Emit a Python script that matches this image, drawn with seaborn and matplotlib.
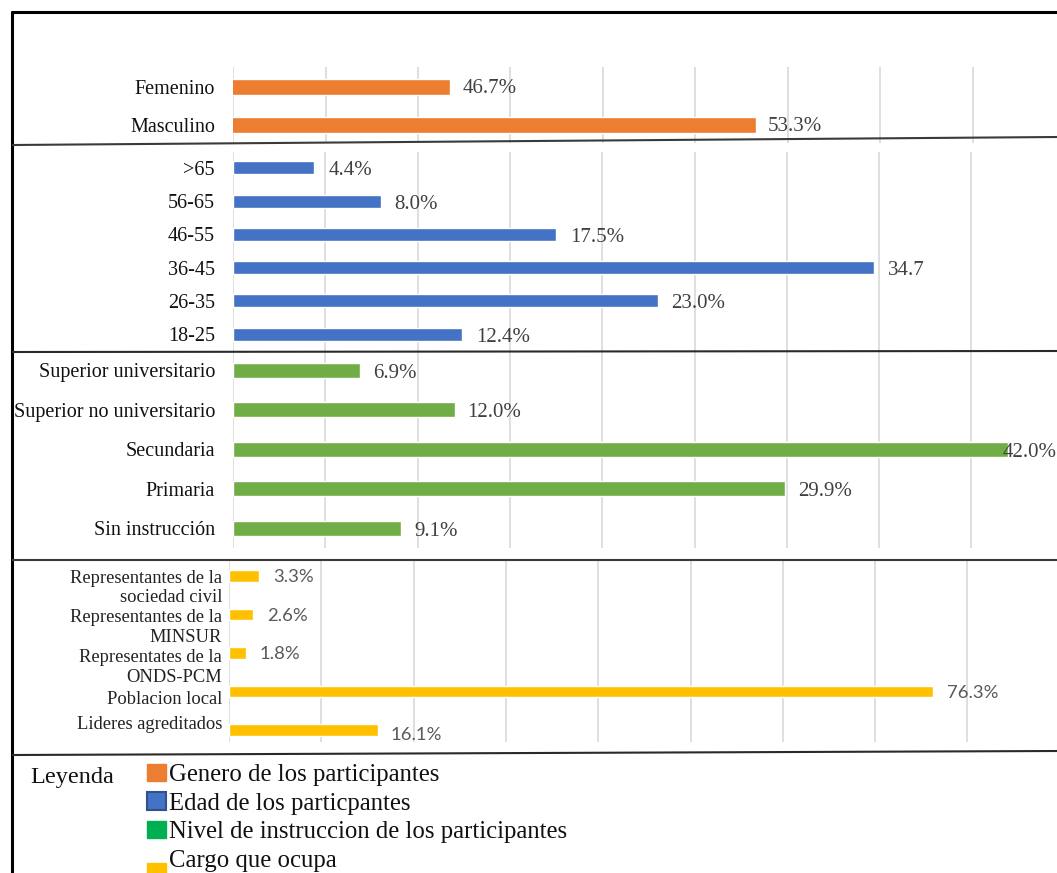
import numpy as np
import pandas as pd
import matplotlib
matplotlib.use("Agg")
import matplotlib.pyplot as plt
import seaborn as sns
from matplotlib.lines import Line2D
from matplotlib.patches import Patch, Rectangle
from matplotlib.legend_handler import HandlerPatch

# ---------------- data ----------------
genero_cats = ["Femenino", "Masculino"]
genero_vals = [46.7, 53.3]
genero_labels = ["46.7%", "53.3%"]

edad_cats = [">65", "56-65", "46-55", "36-45", "26-35", "18-25"]
edad_vals = [4.4, 8.0, 17.5, 34.7, 23.0, 12.4]
edad_labels = ["4.4%", "8.0%", "17.5%", "34.7", "23.0%", "12.4%"]

instr_cats = ["Superior universitario", "Superior no universitario",
              "Secundaria", "Primaria", "Sin instrucción"]
instr_vals = [6.9, 12.0, 42.0, 29.9, 9.1]
instr_labels = ["6.9%", "12.0%", "42.0%", "29.9%", "9.1%"]

cargo_cats = ["Representantes de la\nsociedad civil", "Representantes de la\nMINSUR",
              "Representates de la\nONDS-PCM", "Poblacion local", "Lideres agreditados"]
cargo_vals = [3.3, 2.6, 1.8, 76.3, 16.1]
cargo_labels = ["3.3%", "2.6%", "1.8%", "76.3%", "16.1%"]

legend_title = "Leyenda"
legend_labels = ["Genero de los participantes", "Edad de los particpantes",
                 "Nivel de instruccion de los participantes", "Cargo que ocupa"]

# ---------------- style ----------------
ORANGE, BLUE, GREEN, YELLOW = "#ED7D31", "#4472C4", "#70AD47", "#FFC000"
LEG_GREEN = "#00B050"
GRID = "#D9D9D9"

sns.set_style("white")
plt.rcParams["font.family"] = ["Liberation Serif", "DejaVu Serif"]

W, H = 1057, 873
fig = plt.figure(figsize=(W / 100, H / 100), dpi=100)
fig.patch.set_facecolor("white")


def px_axes(x0, y_top, y_bot):
    return fig.add_axes([x0 / W, 1 - y_bot / H, (W - x0) / W, (y_bot - y_top) / H])


def panel(ax, cats, vals, labels, color, width, xlim, step, ylim,
          tick_labels=True, tick_fs=14.5, val_fs=15, val_family=None,
          val_color="#404040", dx=13, dy=-3, special=None):
    df = pd.DataFrame({"cat": cats, "val": vals})
    sns.barplot(data=df, x="val", y="cat", orient="h", color=color,
                saturation=1, width=width, ax=ax, errorbar=None)
    ax.set_xlim(*xlim)
    ax.set_ylim(*ylim)
    ax.set_xticks(np.arange(xlim[0], xlim[1], step))
    ax.set_xticklabels([])
    ax.tick_params(axis="both", length=0)
    ax.tick_params(axis="y", pad=13, labelsize=tick_fs, labelcolor="#111111")
    ax.grid(axis="x", color=GRID, lw=1.2)
    ax.grid(axis="y", visible=False)
    ax.set_axisbelow(True)
    for s in ax.spines.values():
        s.set_visible(False)
    ax.set_xlabel("")
    ax.set_ylabel("")
    ax.patch.set_alpha(0)
    if not tick_labels:
        ax.set_yticklabels([])
    special = special or {}
    for i, (p, lab) in enumerate(zip(ax.patches, labels)):
        w = p.get_width()
        yc = p.get_y() + p.get_height() / 2
        ox, oy = special.get(i, (dx, dy))
        kw = {}
        if val_family:
            kw["family"] = val_family
        ax.annotate(lab, xy=(w, yc), xytext=(ox, oy), textcoords="offset pixels",
                    ha="left", va="center", fontsize=val_fs, color=val_color, **kw)


# Panel 1: genero
ax1 = px_axes(233, 67, 143)
panel(ax1, genero_cats, genero_vals, genero_labels, ORANGE, 0.42,
      (42, 42 + (W - 233) / 46.25), 2, (1.474, -0.526), dx=12, dy=-2)

# Panel 2: edad
ax2 = px_axes(233, 152, 352)
panel(ax2, edad_cats, edad_vals, edad_labels, BLUE, 0.39,
      (0, (W - 233) / 18.46), 5, (5.54, -0.48), dx=14, dy=-3)

# Panel 3: instruccion
ax3 = px_axes(233, 352, 548)
panel(ax3, instr_cats, instr_vals, instr_labels, GREEN, 0.38,
      (0, (W - 233) / 18.46), 5, (4.506, -0.456), dx=13, dy=-3,
      special={2: (-6, -3)})

# Panel 4: cargo
ax4 = px_axes(229, 561, 742)
panel(ax4, cargo_cats, cargo_vals, cargo_labels, YELLOW, 0.29,
      (0, (W - 229) / 9.23), 10, (4.31, -0.39), tick_labels=False,
      val_fs=13.3, val_family=["Lato", "DejaVu Sans"], val_color="#595959",
      dx=14, dy=-1, special={4: (13, -5)})
cargo_label_shift = [0.31, 0.34, 0.38, 0.20, -0.14]
for i, (lab, sh) in enumerate(zip(cargo_cats, cargo_label_shift)):
    ax4.annotate(lab, xy=(0, i + sh), xycoords=("axes fraction", "data"),
                 xytext=(-7, 0), textcoords="offset pixels", ha="right", va="center",
                 multialignment="right", fontsize=13.3, color="#222222",
                 linespacing=1.2)

# ---------------- frame & separators ----------------
def fig_line(x0, y0, x1, y1, lw, color):
    fig.add_artist(Line2D([x0 / W, x1 / W], [1 - y0 / H, 1 - y1 / H],
                          transform=fig.transFigure, lw=lw, color=color,
                          solid_capstyle="butt"))

fig_line(11, 12, W, 12, 2.2, "black")
fig_line(12, 11, 12, H, 2.2, "black")
fig_line(12, 145, W, 137, 1.5, "#3a3a3a")
fig_line(12, 352, W, 351, 1.5, "#2a2a2a")
fig_line(12, 560, W, 560, 1.5, "#3a3a3a")
fig_line(12, 755, W, 751, 1.5, "#2a2a2a")

# ---------------- legend ----------------
fig.text(30 / W, 1 - 777 / H, legend_title, fontsize=17.5, va="center", ha="left",
         color="#111111")


def low_patch(legend, orig_handle, xdescent, ydescent, width, height, fontsize):
    # smaller square sitting below the text baseline (as in the reference)
    return Rectangle((-xdescent, -ydescent - 0.55 * height), width, 0.75 * height)


handles = [Patch(facecolor=ORANGE, edgecolor=ORANGE),
           Patch(facecolor=BLUE, edgecolor="#2F528F", lw=1.5),
           Patch(facecolor=LEG_GREEN, edgecolor=LEG_GREEN),
           Patch(facecolor=YELLOW, edgecolor=YELLOW)]
fig.legend(handles, legend_labels, loc="upper left",
           bbox_to_anchor=(147 / W, 1 - 764 / H), frameon=False, fontsize=17.8,
           handlelength=0.75, handleheight=0.7, handletextpad=0.15,
           labelspacing=0.25, borderpad=0, borderaxespad=0, labelcolor="#111111",
           handler_map={handles[3]: HandlerPatch(patch_func=low_patch)})

fig.savefig("out.png", dpi=100, facecolor="white")
